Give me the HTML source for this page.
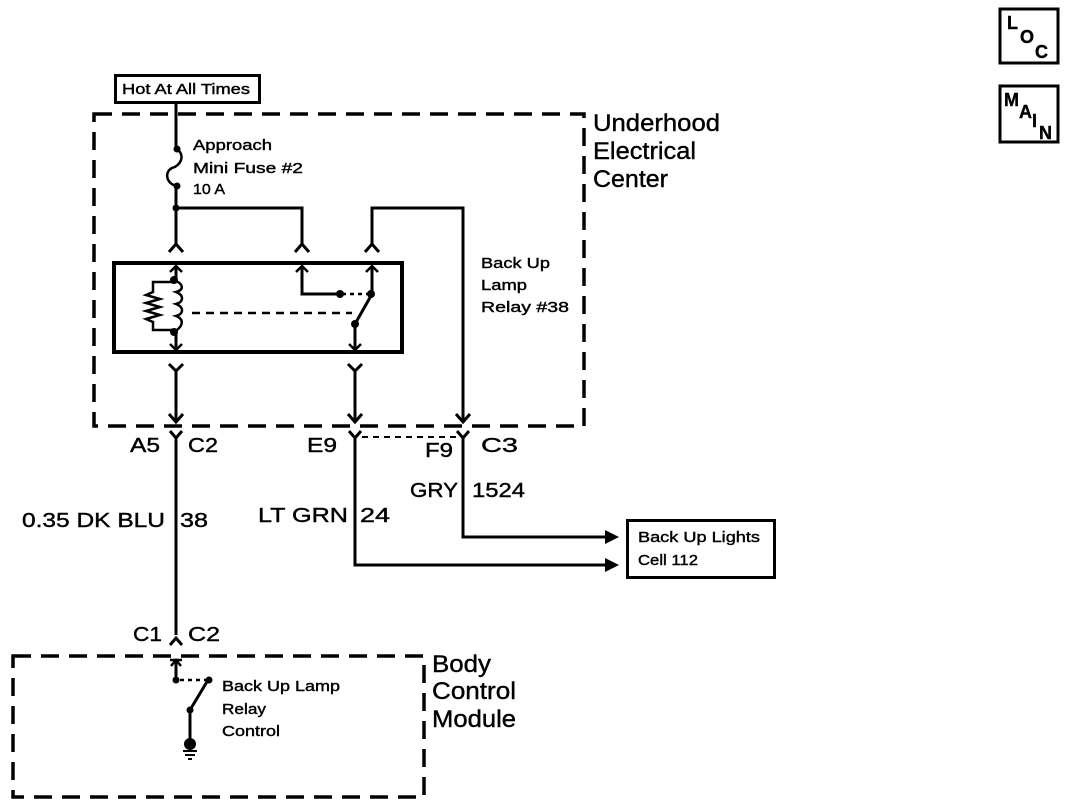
<!DOCTYPE html>
<html><head><meta charset="utf-8"><style>
html,body{margin:0;padding:0;background:#fff;}
svg{display:block;}
text{font-family:"Liberation Sans",Arial,sans-serif;fill:#000;stroke:#000;stroke-width:0.4;}
.s{font-size:15px;}
.m{font-size:20px;}
.l{font-size:24px;}
</style></head><body>
<svg width="1072" height="806" viewBox="0 0 1072 806" xmlns="http://www.w3.org/2000/svg">
<g fill="none" stroke="#000">
<rect x="115.5" y="75.5" width="144" height="27" stroke-width="3"/>
<rect x="94" y="114" width="490" height="312" stroke-width="3.5" stroke-dasharray="18,10"/>
<path d="M176 102 V149" stroke-width="3"/>
<path d="M177 149 C186 156,180 166,172 168 C164 172,166 184,177 186" stroke-width="2.5"/>
<path d="M176 186 V246" stroke-width="3"/>
<path d="M176 208 H302 V246" stroke-width="3"/>
<path d="M372 246 V208 H463 V420" stroke-width="3"/>
<path d="M169 252 L176 244 L183 252 M295 252 L302 244 L309 252 M365 252 L372 244 L379 252" stroke-width="3"/>
<rect x="114" y="263" width="288" height="89" stroke-width="4"/>
<path d="M176 266 V280 M176 332 V350" stroke-width="3"/>
<path d="M170 272 L176 266 L182 272 M170 344 L176 350 L182 344" stroke-width="2.5"/>
<path d="M174 280 C184 284,184 290,176 292 C184 295,184 302,176 304 C184 307,184 314,176 316 C184 319,184 326,174 332" stroke-width="2.5"/>
<path d="M174 282 H153 V292 L146 295 L160 299 L146 303 L160 307 L146 311 L160 315 L146 319 L153 322 V330 H174" stroke-width="2.5"/>
<path d="M192 313 H352" stroke-width="2.5" stroke-dasharray="8,6"/>
<path d="M302 266 V294 H340" stroke-width="3"/>
<path d="M296 272 L302 266 L308 272" stroke-width="2.5"/>
<path d="M342 294 H368" stroke-width="2.5" stroke-dasharray="4,4"/>
<path d="M372 266 V294 L355 324 V350" stroke-width="3"/>
<path d="M366 272 L372 266 L378 272 M349 344 L355 350 L361 344" stroke-width="2.5"/>
<path d="M169 364 L176 371 L183 364 M348 364 L355 371 L362 364" stroke-width="3"/>
<path d="M176 371 V422 M355 371 V422" stroke-width="3"/>
<path d="M169 414 L176 422 L183 414 M348 414 L355 422 L362 414 M456 414 L463 422 L470 414" stroke-width="3"/>
<path d="M170 431 L176 438 L182 431 M349 431 L355 438 L361 431 M457 431 L463 438 L469 431" stroke-width="3"/>
<path d="M176 438 V635 M355 438 V565 H608 M463 438 V537 H608" stroke-width="3"/>
<path d="M362 437 H460" stroke-width="2" stroke-dasharray="6,5"/>
<path d="M170 645 L176 638 L182 645" stroke-width="3"/>
<rect x="627.5" y="520.5" width="147" height="57" stroke-width="3"/>
<rect x="13" y="656" width="411" height="141" stroke-width="3.5" stroke-dasharray="18,10"/>
<path d="M176 660 V680" stroke-width="3"/>
<path d="M170 660 H182 M171 666 L176 660 L181 666" stroke-width="2.5"/>
<path d="M180 680 H206" stroke-width="2.5" stroke-dasharray="4,4"/>
<path d="M208 680 L190 710 V742" stroke-width="3"/>
<path d="M183 751 H197 M185 755 H195 M188 759 H192" stroke-width="2"/>
<rect x="1000" y="9" width="58" height="54" stroke-width="3"/>
<rect x="1000" y="86" width="58" height="56" stroke-width="3"/>
</g>
<g fill="#000">
<circle cx="177" cy="149" r="3.5"/><circle cx="177" cy="186" r="3.5"/><circle cx="176" cy="208" r="3.5"/>
<circle cx="174" cy="280" r="4"/><circle cx="174" cy="332" r="4"/>
<circle cx="340" cy="294" r="4"/><circle cx="371" cy="294" r="4"/><circle cx="355" cy="324" r="4"/>
<path d="M605 530 L619 537 L605 544 Z M605 558 L619 565 L605 572 Z"/>
<circle cx="176" cy="680" r="3.5"/><circle cx="209" cy="680" r="3.5"/><circle cx="190" cy="710" r="3.5"/>
<circle cx="190" cy="744" r="6"/>
</g>
<g lengthAdjust="spacingAndGlyphs">
<text class="s" x="122" y="94" textLength="128" lengthAdjust="spacingAndGlyphs">Hot At All Times</text>
<text class="s" x="193" y="150" textLength="79" lengthAdjust="spacingAndGlyphs">Approach</text>
<text class="s" x="193" y="173" textLength="110" lengthAdjust="spacingAndGlyphs">Mini Fuse #2</text>
<text class="s" x="193" y="194" textLength="32" lengthAdjust="spacingAndGlyphs">10 A</text>
<text class="l" x="593" y="131" textLength="127" lengthAdjust="spacingAndGlyphs">Underhood</text>
<text class="l" x="593" y="159" textLength="103" lengthAdjust="spacingAndGlyphs">Electrical</text>
<text class="l" x="593" y="187" textLength="75" lengthAdjust="spacingAndGlyphs">Center</text>
<text class="s" x="481" y="268" textLength="69" lengthAdjust="spacingAndGlyphs">Back Up</text>
<text class="s" x="481" y="290" textLength="46" lengthAdjust="spacingAndGlyphs">Lamp</text>
<text class="s" x="481" y="312" textLength="88" lengthAdjust="spacingAndGlyphs">Relay #38</text>
<text class="m" x="130" y="452" textLength="30" lengthAdjust="spacingAndGlyphs">A5</text>
<text class="m" x="188" y="452" textLength="30" lengthAdjust="spacingAndGlyphs">C2</text>
<text class="m" x="307" y="452" textLength="30" lengthAdjust="spacingAndGlyphs">E9</text>
<text class="m" x="425" y="457" textLength="28" lengthAdjust="spacingAndGlyphs">F9</text>
<text class="m" x="481" y="452" textLength="37" lengthAdjust="spacingAndGlyphs">C3</text>
<text class="m" x="22" y="527" textLength="143" lengthAdjust="spacingAndGlyphs">0.35 DK BLU</text>
<text class="m" x="180" y="527" textLength="28" lengthAdjust="spacingAndGlyphs">38</text>
<text class="m" x="258" y="522" textLength="90" lengthAdjust="spacingAndGlyphs">LT GRN</text>
<text class="m" x="360" y="522" textLength="30" lengthAdjust="spacingAndGlyphs">24</text>
<text class="m" x="410" y="497" textLength="48" lengthAdjust="spacingAndGlyphs">GRY</text>
<text class="m" x="472" y="497" textLength="53" lengthAdjust="spacingAndGlyphs">1524</text>
<text class="s" x="638" y="542" textLength="122" lengthAdjust="spacingAndGlyphs">Back Up Lights</text>
<text class="s" x="638" y="565" textLength="60" lengthAdjust="spacingAndGlyphs">Cell 112</text>
<text class="m" x="133" y="641" textLength="29" lengthAdjust="spacingAndGlyphs">C1</text>
<text class="m" x="188" y="641" textLength="32" lengthAdjust="spacingAndGlyphs">C2</text>
<text class="l" x="432" y="672" textLength="59" lengthAdjust="spacingAndGlyphs">Body</text>
<text class="l" x="432" y="699" textLength="84" lengthAdjust="spacingAndGlyphs">Control</text>
<text class="l" x="432" y="727" textLength="84" lengthAdjust="spacingAndGlyphs">Module</text>
<text class="s" x="222" y="691" textLength="118" lengthAdjust="spacingAndGlyphs">Back Up Lamp</text>
<text class="s" x="222" y="714" textLength="44" lengthAdjust="spacingAndGlyphs">Relay</text>
<text class="s" x="222" y="736" textLength="58" lengthAdjust="spacingAndGlyphs">Control</text>
</g>
<text font-size="18" font-weight="bold"><tspan x="1007" y="29">L</tspan><tspan x="1020" y="43">O</tspan><tspan x="1035" y="58">C</tspan></text>
<text font-size="18" font-weight="bold"><tspan x="1004" y="106">M</tspan><tspan x="1019" y="118">A</tspan><tspan x="1032" y="127">I</tspan><tspan x="1039" y="139">N</tspan></text>
</svg>
</body></html>
